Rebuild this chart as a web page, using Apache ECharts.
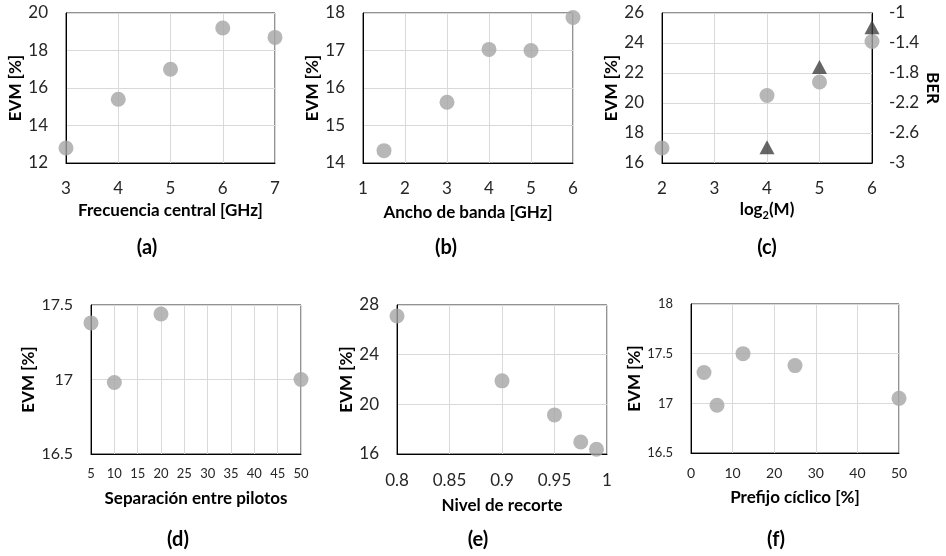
<!DOCTYPE html>
<html><head><meta charset="utf-8">
<script src="https://cdn.jsdelivr.net/npm/echarts@6/dist/echarts.min.js"></script>
<style>html,body{margin:0;padding:0;background:#fff}#c{width:946px;height:556px}</style>
</head><body><div id="c"></div>
<script>
// ---- data ----
const freqX = [3, 4, 5, 6, 7];
const freqEVM = [12.8, 15.4, 17.0, 19.2, 18.7];
const bwX = [1.5, 3, 4, 5, 6];
const bwEVM = [14.33, 15.62, 17.03, 17.0, 17.88];
const modX = [2, 4, 5, 6];
const modEVM = [17.0, 20.5, 21.4, 24.1];
const berX = [4, 5, 6];
const berVal = [-2.79, -1.72, -1.19];
const pilotX = [5, 10, 20, 50];
const pilotEVM = [17.38, 16.98, 17.44, 17.0];
const clipX = [0.8, 0.9, 0.95, 0.975, 0.99];
const clipEVM = [27.11, 21.89, 19.15, 16.97, 16.38];
const cpX = [3.125, 6.25, 12.5, 25, 50];
const cpEVM = [17.31, 16.98, 17.5, 17.38, 17.05];

const panelLabels = ['(a)', '(b)', '(c)', '(d)', '(e)', '(f)'];
const xNames = ['Frecuencia central [GHz]', 'Ancho de banda [GHz]', '{a|log}{s|2}{a|(M)}',
                'Separación entre pilotos', 'Nivel de recorte', 'Prefijo cíclico [%]'];
const yName = 'EVM [%]';
const berName = 'BER';
// axis ranges [min, max, interval]
const xRanges = [[3, 7, 1], [1, 6, 1], [2, 6, 1], [5, 50, 5], [0.8, 1, 0.05], [0, 50, 10]];
const yRanges = [[12, 20, 2], [14, 18, 1], [16, 26, 2], [16.5, 17.5, 0.5], [16, 28, 4], [16.5, 18, 0.5]];
const berRange = [-3, -1, 0.4];

// ---- layout ----
const FONT = 'Lato';
const grids = [
  {left: 66, top: 13, width: 209, height: 150},
  {left: 363, top: 13, width: 210, height: 150},
  {left: 662, top: 13, width: 210, height: 150},
  {left: 91, top: 305, width: 210, height: 149},
  {left: 397, top: 305, width: 210, height: 149},
  {left: 691, top: 304, width: 208, height: 149}
];
const xTickSize = [17, 17, 17, 13, 17, 14];
const yTickSize = [17, 17, 17, 16, 17, 13];
const xLabelMargin = [17, 17, 17, 13, 18, 13];
const xNameGap = [39, 41, 36, 36, 43, 36];
const yNameGap = [41, 37, 31, 46, 42, 46];
const labelPos = [[147, 248], [446, 248], [767, 248], [178, 540], [478, 540], [776, 540]];

const pairs = (xs, ys) => xs.map((x, i) => [x, ys[i]]);
const seriesData = [pairs(freqX, freqEVM), pairs(bwX, bwEVM), pairs(modX, modEVM),
                    pairs(pilotX, pilotEVM), pairs(clipX, clipEVM), pairs(cpX, cpEVM)];

const nameStyle = {fontFamily: FONT, fontWeight: 'bold', fontSize: 17, color: '#000'};

const xAxis = [], yAxis = [], series = [];
grids.forEach((g, i) => {
  xAxis.push({
    type: 'value', gridIndex: i,
    min: xRanges[i][0], max: xRanges[i][1], interval: xRanges[i][2],
    name: xNames[i], nameLocation: 'middle', nameGap: xNameGap[i],
    nameTextStyle: Object.assign({}, nameStyle, i === 2 ? {
      rich: {
        a: {fontFamily: FONT, fontWeight: 'bold', fontSize: 17, color: '#000', verticalAlign: 'top', lineHeight: 20},
        s: {fontFamily: FONT, fontWeight: 'bold', fontSize: 11, color: '#000', verticalAlign: 'bottom', lineHeight: 12, padding: [12, 0, 0, 0]}
      }
    } : {}),
    axisLine: {show: true, onZero: false, lineStyle: {color: '#000', width: 1}},
    axisTick: {show: false},
    axisLabel: {fontFamily: FONT, fontSize: xTickSize[i], color: '#262626', margin: xLabelMargin[i],
                showMinLabel: true, showMaxLabel: true, hideOverlap: false},
    splitLine: {show: true, lineStyle: {color: '#d9d9d9', width: 1}}
  });
  yAxis.push({
    type: 'value', gridIndex: i, position: 'left',
    min: yRanges[i][0], max: yRanges[i][1], interval: yRanges[i][2],
    name: yName, nameLocation: 'middle', nameGap: yNameGap[i], nameRotate: 90,
    nameTextStyle: nameStyle,
    axisLine: {show: true, onZero: false, lineStyle: {color: '#000', width: 1}},
    axisTick: {show: false},
    axisLabel: {fontFamily: FONT, fontSize: yTickSize[i], color: '#262626', margin: 18,
                showMinLabel: true, showMaxLabel: true},
    splitLine: {show: true, lineStyle: {color: '#d9d9d9', width: 1}}
  });
});
// BER axis on panel (c)
yAxis.push({
  type: 'value', gridIndex: 2, position: 'right',
  min: berRange[0], max: berRange[1], interval: berRange[2],
  name: berName, nameLocation: 'middle', nameGap: 52, nameRotate: -90,
  nameTextStyle: nameStyle,
  axisLine: {show: true, onZero: false, lineStyle: {color: '#000', width: 1}},
  axisTick: {show: false},
  axisLabel: {fontFamily: FONT, fontSize: 17, color: '#262626', margin: 17,
              showMinLabel: true, showMaxLabel: true},
  splitLine: {show: false}
});

seriesData.forEach((d, i) => {
  series.push({
    type: 'scatter', xAxisIndex: i, yAxisIndex: i, data: d,
    symbol: 'circle', symbolSize: 15, clip: false,
    itemStyle: {color: '#a5a5a5'}, z: 3
  });
});
series.push({
  type: 'scatter', xAxisIndex: 2, yAxisIndex: 6, data: pairs(berX, berVal),
  symbol: 'triangle', symbolSize: [15, 14], clip: false,
  itemStyle: {color: '#404040'}, z: 4
});

const graphic = panelLabels.map((t, i) => ({
  type: 'text', x: labelPos[i][0], y: labelPos[i][1],
  style: {text: t, fontFamily: FONT, fontWeight: 'bold', fontSize: 20, fill: '#000', align: 'center', verticalAlign: 'middle'}
}));

const chart = echarts.init(document.getElementById('c'), null, {renderer: 'canvas'});
chart.setOption({
  animation: false,
  backgroundColor: '#fff',
  grid: grids.map(g => Object.assign({show: true, borderColor: '#262626', borderWidth: 1, backgroundColor: 'transparent', containLabel: false}, g)),
  xAxis, yAxis, series, graphic
});
</script>
</body></html>
